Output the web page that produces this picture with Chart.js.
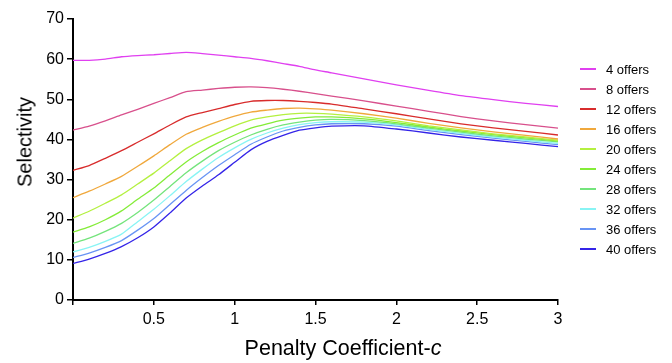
<!DOCTYPE html>
<html>
<head>
<meta charset="utf-8">
<script src="https://cdn.jsdelivr.net/npm/chart.js@4.4.1/dist/chart.umd.min.js"></script>
<style>
    body { margin: 0; background: #fff; font-family: "Liberation Sans", Arial, sans-serif; }
    #wrap { position: relative; width: 672px; height: 363px; }
    #xTitle { position: absolute; left: 213px; width: 260px; top: 336px; text-align: center; font-size: 21.5px; color: #000; white-space: nowrap; }
    #yTitle { position: absolute; left: 25px; top: 142px; font-size: 20px; color: #000; white-space: nowrap;
              transform: translate(-50%, -50%) rotate(-90deg); }
    #legend { position: absolute; left: 580px; top: 59px; }
    .item { height: 20px; display: flex; align-items: center; font-size: 13px; color: #000; }
    .swatch { flex: 0 0 16px; width: 16px; height: 2px; margin-right: 10px; }
</style>
</head>
<body>
<div id="wrap">
    <canvas id="selectivityChart" width="672" height="363"></canvas>
    <div id="xTitle">Penalty Coefficient-<i>c</i></div>
    <div id="yTitle">Selectivity</div>
    <div id="legend"></div>
</div>
<script>
// Penalty coefficient values (x)
const penalty = [0, 0.1, 0.2, 0.3, 0.4, 0.5, 0.6, 0.7, 0.8, 0.9, 1.0, 1.1, 1.2, 1.3, 1.4, 1.5, 1.6, 1.8, 2.0, 2.2, 2.4, 2.6, 2.8, 3.0];

const seriesLabels = ['4 offers', '8 offers', '12 offers', '16 offers', '20 offers',
                      '24 offers', '28 offers', '32 offers', '36 offers', '40 offers'];
const seriesColors = ['#e040f0', '#d8508c', '#d82c2c', '#f0a83c', '#b4f040',
                      '#84ec38', '#74e47c', '#88f4f4', '#6894f4', '#3424e8'];

// Selectivity per number of offers
const offers4  = [59.7, 59.7, 60.0, 60.6, 60.9, 61.1, 61.4, 61.7, 61.4, 61.0, 60.6, 60.2, 59.6, 58.9, 58.2, 57.3, 56.6, 55.1, 53.6, 52.2, 50.9, 49.9, 49.0, 48.2];
const offers8  = [42.3, 43.3, 44.6, 46.1, 47.5, 49.0, 50.4, 51.9, 52.3, 52.7, 53.0, 53.1, 52.9, 52.5, 52.0, 51.4, 50.8, 49.6, 48.3, 47.0, 45.7, 44.6, 43.7, 42.8];
const offers12 = [32.3, 33.5, 35.3, 37.2, 39.3, 41.4, 43.6, 45.6, 46.7, 47.7, 48.7, 49.5, 49.7, 49.7, 49.5, 49.2, 48.8, 47.6, 46.4, 45.1, 43.9, 42.9, 42.0, 41.1];
const offers16 = [25.5, 27.1, 28.9, 30.8, 33.3, 35.9, 38.7, 41.3, 43.0, 44.5, 45.8, 46.8, 47.3, 47.7, 47.8, 47.6, 47.3, 46.4, 45.3, 44.0, 42.9, 41.9, 41.0, 40.1];
const offers20 = [20.4, 22.1, 24.1, 26.2, 28.9, 31.6, 34.7, 37.7, 39.9, 41.7, 43.4, 44.8, 45.6, 46.2, 46.5, 46.5, 46.3, 45.6, 44.6, 43.4, 42.4, 41.4, 40.6, 39.8];
const offers24 = [16.9, 18.2, 20.0, 22.2, 25.1, 27.9, 31.2, 34.4, 37.0, 39.2, 41.1, 42.8, 43.9, 44.8, 45.3, 45.6, 45.6, 45.1, 44.2, 43.1, 42.1, 41.2, 40.4, 39.6];
const offers28 = [14.1, 15.4, 17.1, 19.1, 21.8, 24.9, 28.3, 31.7, 34.6, 37.2, 39.3, 41.1, 42.5, 43.6, 44.3, 44.8, 45.0, 44.7, 43.9, 42.8, 41.8, 40.9, 40.1, 39.4];
const offers32 = [12.0, 13.1, 14.6, 16.4, 19.5, 22.6, 26.0, 29.5, 32.6, 35.5, 37.9, 40.0, 41.6, 42.8, 43.7, 44.2, 44.4, 44.3, 43.6, 42.5, 41.5, 40.6, 39.8, 39.0];
const offers36 = [10.6, 11.7, 13.1, 14.8, 17.4, 20.3, 23.8, 27.3, 30.5, 33.5, 36.2, 38.8, 40.6, 42.1, 43.0, 43.6, 43.9, 43.9, 43.3, 42.2, 41.2, 40.3, 39.5, 38.7];
const offers40 = [9.1, 10.2, 11.6, 13.3, 15.5, 18.2, 21.7, 25.4, 28.4, 31.2, 34.3, 37.4, 39.5, 41.0, 42.3, 42.9, 43.3, 43.4, 42.6, 41.6, 40.6, 39.8, 39.0, 38.2];

const allSeries = [offers4, offers8, offers12, offers16, offers20, offers24, offers28, offers32, offers36, offers40];

const yTicks = [0, 10, 20, 30, 40, 50, 60, 70];
const xTickLabels = ['0.5', '1', '1.5', '2', '2.5', '3'];

const datasets = allSeries.map((values, i) => ({
    label: seriesLabels[i],
    data: values.map((v, j) => ({ x: penalty[j], y: v })),
    borderColor: seriesColors[i],
    borderWidth: 1.3,
    pointRadius: 0,
    tension: 0.2,
    fill: false
}));

// HTML legend
const legend = document.getElementById('legend');
seriesLabels.forEach((label, i) => {
    const row = document.createElement('div');
    row.className = 'item';
    row.innerHTML = `<span class="swatch" style="background-color:${seriesColors[i]}"></span>${label}`;
    legend.appendChild(row);
});

const tickFont = { family: '"Liberation Sans", Arial, sans-serif', size: 16 };

new Chart(document.getElementById('selectivityChart').getContext('2d'), {
    type: 'line',
    data: { datasets: datasets },
    options: {
        responsive: false,
        animation: false,
        layout: { padding: { left: 0, right: 114, top: 19, bottom: 0 } },
        plugins: {
            legend: { display: false },
            tooltip: { enabled: false }
        },
        scales: {
            x: {
                type: 'linear',
                min: 0,
                max: 3,
                afterFit: scale => { scale.height = 63; },
                ticks: {
                    stepSize: 0.5,
                    color: '#000',
                    font: tickFont,
                    padding: 5,
                    maxRotation: 0,
                    callback: value => xTickLabels.includes(String(value)) ? String(value) : ''
                },
                grid: { drawOnChartArea: false, drawTicks: true, tickLength: 5, color: '#000', lineWidth: 1.5 },
                border: { display: true, color: '#000', width: 2 }
            },
            y: {
                min: 0,
                max: 70,
                afterFit: scale => { scale.width = 73; },
                afterBuildTicks: scale => { scale.ticks = yTicks.map(v => ({ value: v })); },
                ticks: {
                    color: '#000',
                    font: tickFont,
                    padding: 3
                },
                grid: { drawOnChartArea: false, drawTicks: true, tickLength: 6, color: '#000', lineWidth: 1.5 },
                border: { display: true, color: '#000', width: 2 }
            }
        }
    }
});
</script>
</body>
</html>
